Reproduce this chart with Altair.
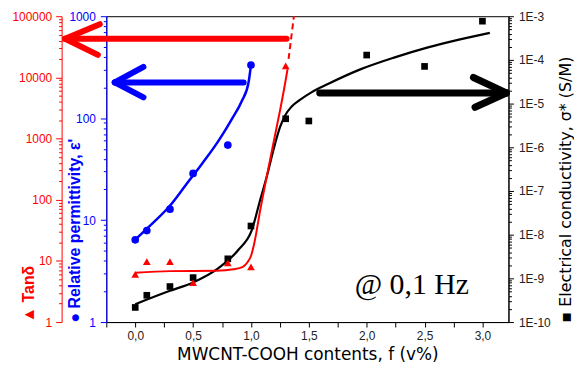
import altair as alt
import pandas as pd

RED = "#ff0000"
BLUE = "#0000ff"

# ---- data ----
# Relative permittivity (blue circles, left inner axis)
perm_x = [0.0, 0.1, 0.3, 0.5, 0.8, 1.0]
perm_v = [6.4, 7.9, 12.8, 28.7, 54.5, 332]
perm_fit_x = [0.0, 0.151, 0.294, 0.437, 0.579, 0.722, 0.836, 0.922, 0.979, 0.999]
perm_fit_v = [6.43, 9.33, 13.6, 22.1, 35.9, 60.5, 98.5, 148, 224, 325]

# Tan delta (red triangles, left outer axis)
tan_x = [0.0, 0.1, 0.3, 0.5, 0.8, 1.0, 1.3]
tan_v = [6.0, 9.7, 9.7, 4.4, 9.3, 8.0, 15400]
tan_fit_x = [0.0, 0.3, 0.7, 0.85, 0.93, 0.97, 1.0, 1.03, 1.08, 1.136, 1.193, 1.251, 1.294, 1.316]
tan_fit_v = [6.4, 6.8, 6.9, 7.3, 8.0, 9.5, 12, 20, 68, 237, 826, 2870, 7800, 13600]
tan_dash_x = [1.325, 1.371]
tan_dash_v = [20000, 100000]

# Electrical conductivity (black squares, right axis)
cond_x = [0.0, 0.1, 0.3, 0.5, 0.8, 1.0, 1.3, 1.5, 2.0, 2.5, 3.0]
cond_v = [2.16e-10, 4.1e-10, 6.5e-10, 1.04e-9, 2.8e-9, 1.58e-8, 4.5e-6, 4.0e-6, 1.29e-4, 7.1e-5, 7.7e-4]
cond_fit_x = [0.0, 0.294, 0.494, 0.722, 0.894, 1.008, 1.08, 1.136, 1.193, 1.251, 1.294, 1.35,
              1.42, 1.522, 1.665, 1.95, 2.236, 2.522, 2.807, 3.064]
cond_fit_v = [2.57e-10, 5.13e-10, 7.94e-10, 1.74e-9, 4.57e-9, 1.29e-8, 6.31e-8, 2.11e-7, 8.51e-7,
              2.88e-6, 5.3e-6, 8.5e-6, 1.2e-5, 1.81e-5, 2.81e-5, 6.15e-5, 1.13e-4, 1.91e-4, 2.95e-4, 4.17e-4]

# annotation arrows (tail/arm x, tip x, start value, tip value) in data units
red_arrow_x = [1.308, -0.306, -0.323]
red_arrow_x2 = [-0.606, -0.606, -0.606]
red_arrow_y = [42800, 74100, 23300]
red_arrow_y2 = [42800, 42800, 42800]

blue_arrow_x = [0.937, 0.071, 0.071]
blue_arrow_x2 = [-0.177, -0.177, -0.177]
blue_arrow_y = [224, 318, 160]
blue_arrow_y2 = [224, 224, 224]

black_arrow_x = [1.594, 2.922, 2.936]
black_arrow_x2 = [3.207, 3.207, 3.207]
black_arrow_y = [1.75e-5, 3.96e-5, 8.24e-6]
black_arrow_y2 = [1.75e-5, 1.75e-5, 1.75e-5]

note_text = ["@ 0,1 Hz"]
note_x = [2.39]
note_v = [4.33e-10]

# axis tick values
x_ticks = [-0.25, 0.0, 0.25, 0.5, 0.75, 1.0, 1.25, 1.5, 1.75, 2.0, 2.25, 2.5, 2.75, 3.0]
red_ticks = [m * 10 ** d for d in range(5) for m in range(1, 10)] + [100000]
blue_ticks = [m * 10 ** d for d in range(3) for m in range(1, 10)] + [1000]
cond_ticks = [m * 10.0 ** e for e in range(-10, -3) for m in range(1, 10)] + [1e-3]

MAJOR = "abs(log(datum.value)/LN10 - round(log(datum.value)/LN10)) < 0.01"


def tick_size(major, minor):
    return {"condition": {"test": MAJOR, "value": major}, "value": minor}


x_axis = alt.Axis(
    orient="bottom", values=x_ticks,
    labelExpr="datum.value >= 0 && abs(datum.value*2 - round(datum.value*2)) < 0.001 ? replace(format(datum.value, '.1f'), '.', ',') : ''",
    tickSize=5, tickColor="black", domainColor="black", labelColor="#222222",
    labelFont="Liberation Sans", labelFontSize=12, labelPadding=4,
    titleFont="DejaVu Sans", titleFontSize=17, titleFontWeight="normal", titleColor="black",
    titleY=38, titleBaseline="alphabetic", grid=False,
)
x_scale = alt.Scale(domain=[-0.25, 3.225], nice=False, zero=False)
X_TITLE = "MWCNT-COOH contents, f (v%)"


def X(field):
    return alt.X(field, type="quantitative", scale=x_scale, axis=x_axis, title=X_TITLE)


red_axis = alt.Axis(
    orient="left", offset=45, values=red_ticks,
    labelExpr=MAJOR + " ? format(datum.value, 'd') : ''",
    tickSize=tick_size(6, 3), tickColor=RED, domainColor=RED, labelColor=RED,
    labelFont="Liberation Sans", labelFontSize=12, labelPadding=4,
    titleFont="Liberation Sans", titleFontSize=16, titleFontWeight="bold", titleColor=RED,
    titleAngle=270, titleAnchor="start", titleX=-33, titleBaseline="middle", grid=False,
)
red_scale = alt.Scale(type="log", domain=[1, 100000], nice=False)
RED_TITLE = "▲ Tanδ"

blue_axis = alt.Axis(
    orient="left", offset=0, values=blue_ticks,
    labelExpr=MAJOR + " ? format(datum.value, 'd') : ''",
    tickSize=tick_size(6, 3), tickColor=BLUE, domainColor=BLUE, labelColor=BLUE,
    labelFont="Liberation Sans", labelFontSize=12, labelPadding=5,
    titleFont="Liberation Sans", titleFontSize=16, titleFontWeight="bold", titleColor=BLUE,
    titleAngle=270, titleAnchor="start", titleX=-32, titleBaseline="middle", grid=False,
)
blue_scale = alt.Scale(type="log", domain=[1, 1000], nice=False)
BLUE_TITLE = "● Relative permittivity, ε'"

cond_axis = alt.Axis(
    orient="right", values=cond_ticks,
    labelExpr=MAJOR + " ? '1E' + round(log(datum.value)/LN10) : ''",
    tickSize=tick_size(5, 3), tickColor="black", domainColor="black", labelColor="#222222",
    labelFont="Liberation Sans", labelFontSize=12, labelPadding=5,
    titleFont="DejaVu Sans", titleFontSize=16, titleFontWeight="normal", titleColor="black",
    titleAngle=270, titleAnchor="start", titleX=57, titleBaseline="middle", grid=False,
)
cond_scale = alt.Scale(type="log", domain=[1e-10, 1e-3], nice=False)
COND_TITLE = "▪ Electrical conductivity, σ* (S/M)"


def Yr(field):
    return alt.Y(field, type="quantitative", scale=red_scale, axis=red_axis, title=RED_TITLE)


def Yb(field):
    return alt.Y(field, type="quantitative", scale=blue_scale, axis=blue_axis, title=BLUE_TITLE)


def Yc(field):
    return alt.Y(field, type="quantitative", scale=cond_scale, axis=cond_axis, title=COND_TITLE)


# ---- blue group ----
blue_fit = alt.Chart(pd.DataFrame({"x": perm_fit_x, "v": perm_fit_v})).mark_line(
    color=BLUE, strokeWidth=2.5, interpolate="monotone").encode(x=X("x"), y=Yb("v"))
blue_pts = alt.Chart(pd.DataFrame({"x": perm_x, "v": perm_v})).mark_point(
    shape="circle", filled=True, size=60, color=BLUE, opacity=1).encode(x=X("x"), y=Yb("v"))
blue_arr = alt.Chart(pd.DataFrame({"x": blue_arrow_x, "x2": blue_arrow_x2, "y": blue_arrow_y, "y2": blue_arrow_y2})).mark_rule(
    color=BLUE, strokeWidth=6, strokeCap="round").encode(x=X("x"), x2="x2", y=Yb("y"), y2="y2")
blue_group = alt.layer(blue_fit, blue_pts, blue_arr)

# ---- black group ----
cond_fit = alt.Chart(pd.DataFrame({"x": cond_fit_x, "v": cond_fit_v})).mark_line(
    color="black", strokeWidth=2.2, interpolate="monotone").encode(x=X("x"), y=Yc("v"))
cond_pts = alt.Chart(pd.DataFrame({"x": cond_x, "v": cond_v})).mark_point(
    shape="square", filled=True, size=45, color="black", opacity=1).encode(x=X("x"), y=Yc("v"))
cond_arr = alt.Chart(pd.DataFrame({"x": black_arrow_x, "x2": black_arrow_x2, "y": black_arrow_y, "y2": black_arrow_y2})).mark_rule(
    color="black", strokeWidth=7, strokeCap="round").encode(x=X("x"), x2="x2", y=Yc("y"), y2="y2")
note = alt.Chart(pd.DataFrame({"x": note_x, "v": note_v, "t": note_text})).mark_text(
    font="Liberation Serif", fontSize=30, align="center", baseline="alphabetic", color="black").encode(
    x=X("x"), y=Yc("v"), text="t:N")
black_group = alt.layer(cond_fit, cond_pts, cond_arr, note)

# ---- red group ----
tan_fit = alt.Chart(pd.DataFrame({"x": tan_fit_x, "v": tan_fit_v})).mark_line(
    color=RED, strokeWidth=2, interpolate="monotone").encode(x=X("x"), y=Yr("v"))
tan_dash = alt.Chart(pd.DataFrame({"x": tan_dash_x, "v": tan_dash_v})).mark_line(
    color=RED, strokeWidth=2, strokeDash=[6, 4]).encode(x=X("x"), y=Yr("v"))
tan_pts = alt.Chart(pd.DataFrame({"x": tan_x, "v": tan_v})).mark_point(
    shape="triangle-up", filled=True, size=60, color=RED, opacity=1).encode(x=X("x"), y=Yr("v"))
red_arr = alt.Chart(pd.DataFrame({"x": red_arrow_x, "x2": red_arrow_x2, "y": red_arrow_y, "y2": red_arrow_y2})).mark_rule(
    color=RED, strokeWidth=6, strokeCap="round").encode(x=X("x"), x2="x2", y=Yr("y"), y2="y2")
red_group = alt.layer(tan_fit, tan_dash, tan_pts, red_arr)

chart = alt.layer(blue_group, black_group, red_group).resolve_scale(y="independent").properties(
    width=405, height=308,
    autosize=alt.AutoSizeParams(type="none"),
    padding={"left": 99, "top": 7, "right": 66, "bottom": 45},
    background="white",
).configure_view(stroke="black", strokeWidth=1)

chart.save("out.html", embed_options={"renderer": "svg", "actions": False})
